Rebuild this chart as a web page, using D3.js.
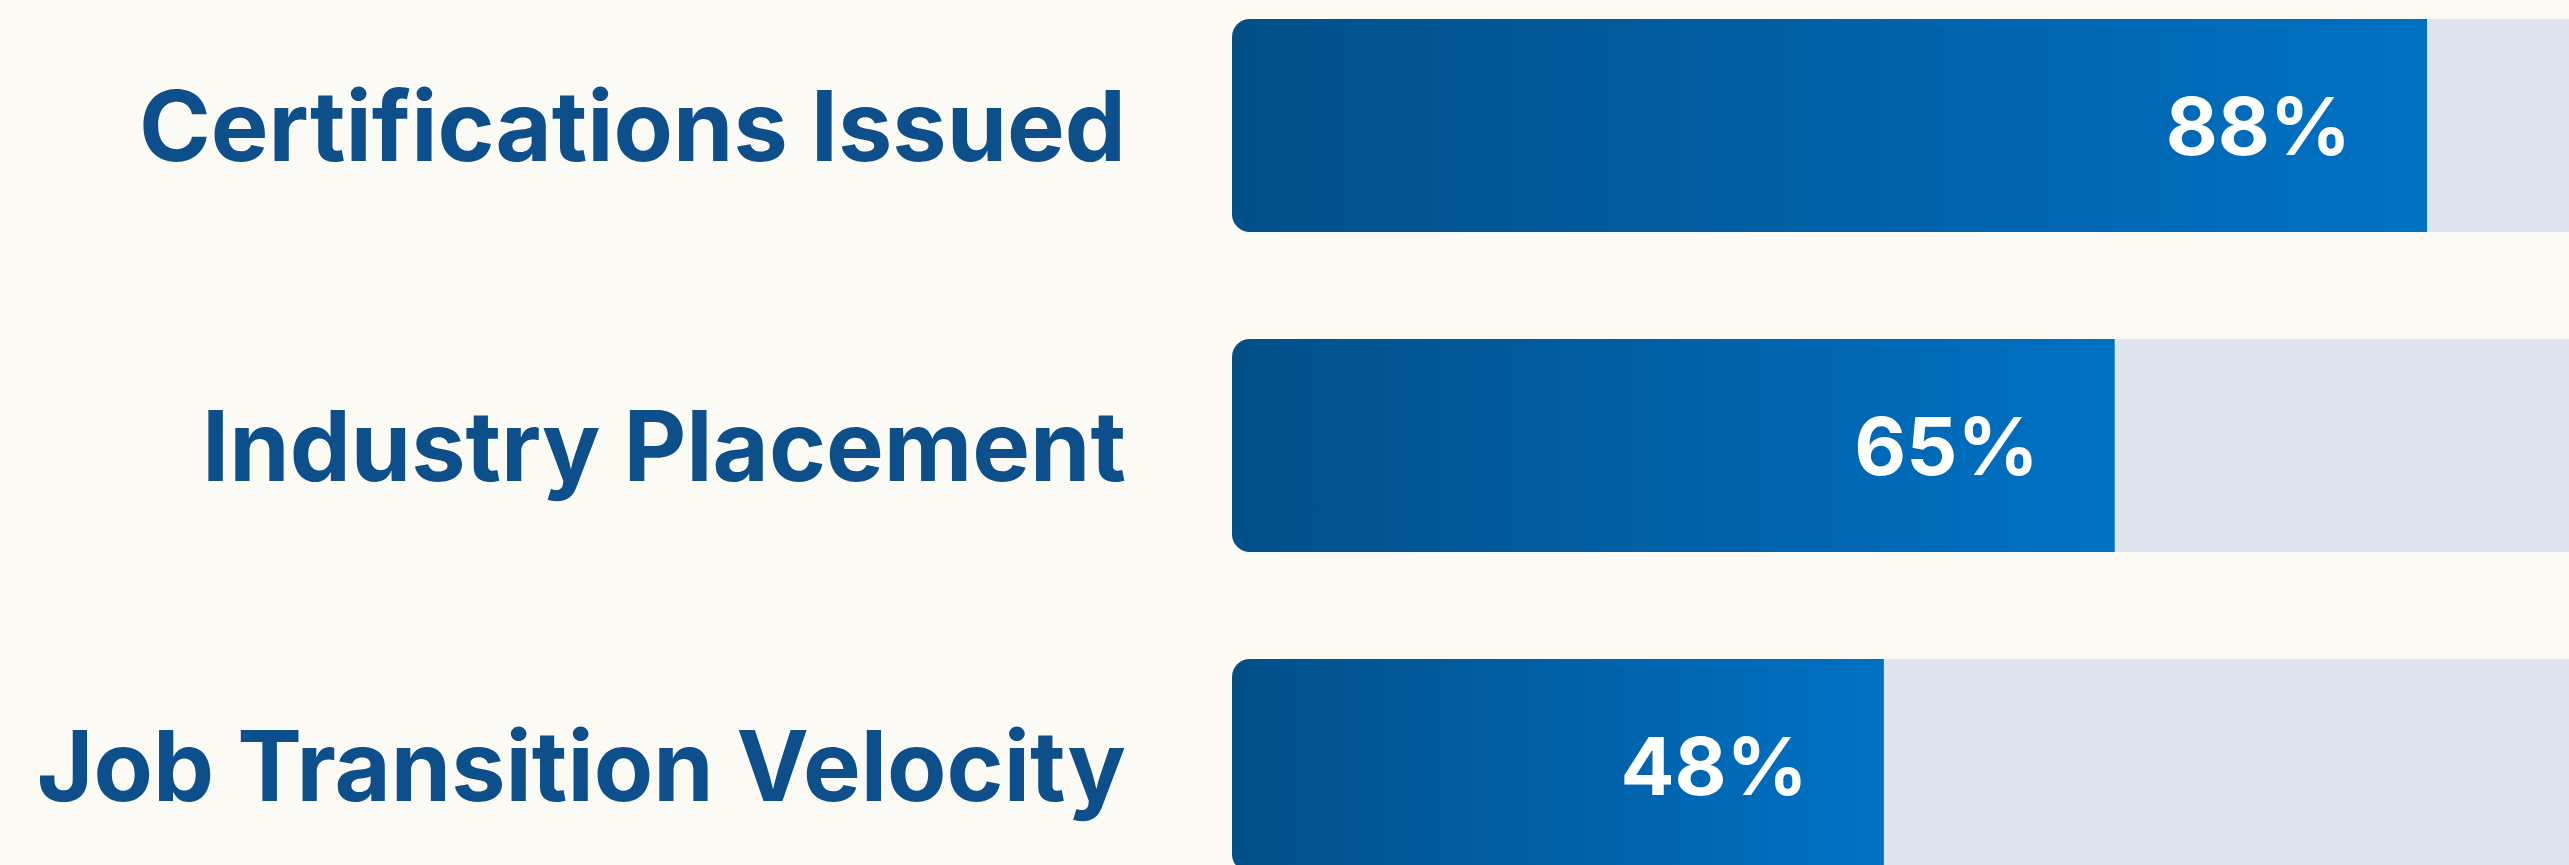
<!DOCTYPE html>
<html>
<head>
<meta charset="utf-8">
<script src="https://cdn.jsdelivr.net/npm/d3@7"></script>
<style>
  html, body { margin: 0; padding: 0; background: #fcfaf4; overflow: hidden; }
  svg { display: block; }
</style>
</head>
<body>
<div id="chart"></div>
<script>
// data
const categories = ["Certifications Issued", "Industry Placement", "Job Transition Velocity"];
const values = [88, 65, 48];
const valueLabels = ["88%", "65%", "48%"];

const width = 2569, height = 865;

const svg = d3.select("#chart")
    .append("svg")
    .attr("width", width)
    .attr("height", height);

svg.append("rect")
    .attr("width", width)
    .attr("height", height)
    .attr("fill", "#fcfaf4");

// scales
const xScale = d3.scaleLinear()
    .domain([0, 100])
    .range([1232, 2590]);

const yScale = d3.scaleBand()
    .domain(categories)
    .range([19, 872])
    .paddingInner(0.334)
    .paddingOuter(0);

const defs = svg.append("defs");

// gradient for the filled part, dark on the left, brighter on the right
const grad = defs.append("linearGradient")
    .attr("id", "barGrad")
    .attr("x1", "0%").attr("x2", "100%")
    .attr("y1", "0%").attr("y2", "0%");
grad.append("stop").attr("offset", "0%").attr("stop-color", "#034f88");
grad.append("stop").attr("offset", "100%").attr("stop-color", "#0071c4");

const rows = svg.selectAll(".row")
    .data(categories)
    .enter().append("g")
    .attr("class", "row");

// clip each bar to its rounded track
rows.each(function(d, i) {
    defs.append("clipPath")
        .attr("id", "clip" + i)
        .append("rect")
        .attr("x", xScale(0))
        .attr("y", yScale(d))
        .attr("width", xScale(100) - xScale(0))
        .attr("height", yScale.bandwidth())
        .attr("rx", 18);
});

// background track
rows.append("rect")
    .attr("class", "track")
    .attr("x", xScale(0))
    .attr("y", d => yScale(d))
    .attr("width", xScale(100) - xScale(0))
    .attr("height", yScale.bandwidth())
    .attr("rx", 18)
    .style("fill", "#dfe5ed");

// value bars
rows.append("rect")
    .attr("class", "bar")
    .attr("clip-path", (d, i) => "url(#clip" + i + ")")
    .attr("x", xScale(0))
    .attr("y", d => yScale(d))
    .attr("width", (d, i) => xScale(values[i]) - xScale(0))
    .attr("height", yScale.bandwidth())
    .style("fill", "url(#barGrad)");

// category labels on the left
rows.append("text")
    .attr("class", "label")
    .attr("x", xScale(0) - 106)
    .attr("y", d => yScale(d) + yScale.bandwidth() / 2)
    .attr("text-anchor", "end")
    .attr("dominant-baseline", "central")
    .style("font-family", "Inter, sans-serif")
    .style("font-weight", 700)
    .style("font-size", "97px")
    .style("fill", "#0c4f8b")
    .text(d => d);

// value labels inside the bars
rows.append("text")
    .attr("class", "value")
    .attr("x", (d, i) => xScale(values[i]) - 76)
    .attr("y", d => yScale(d) + yScale.bandwidth() / 2)
    .attr("text-anchor", "end")
    .attr("dominant-baseline", "central")
    .style("font-family", "Inter, sans-serif")
    .style("font-weight", 700)
    .style("font-size", "80px")
    .style("fill", "#ffffff")
    .text((d, i) => valueLabels[i]);
</script>
</body>
</html>
